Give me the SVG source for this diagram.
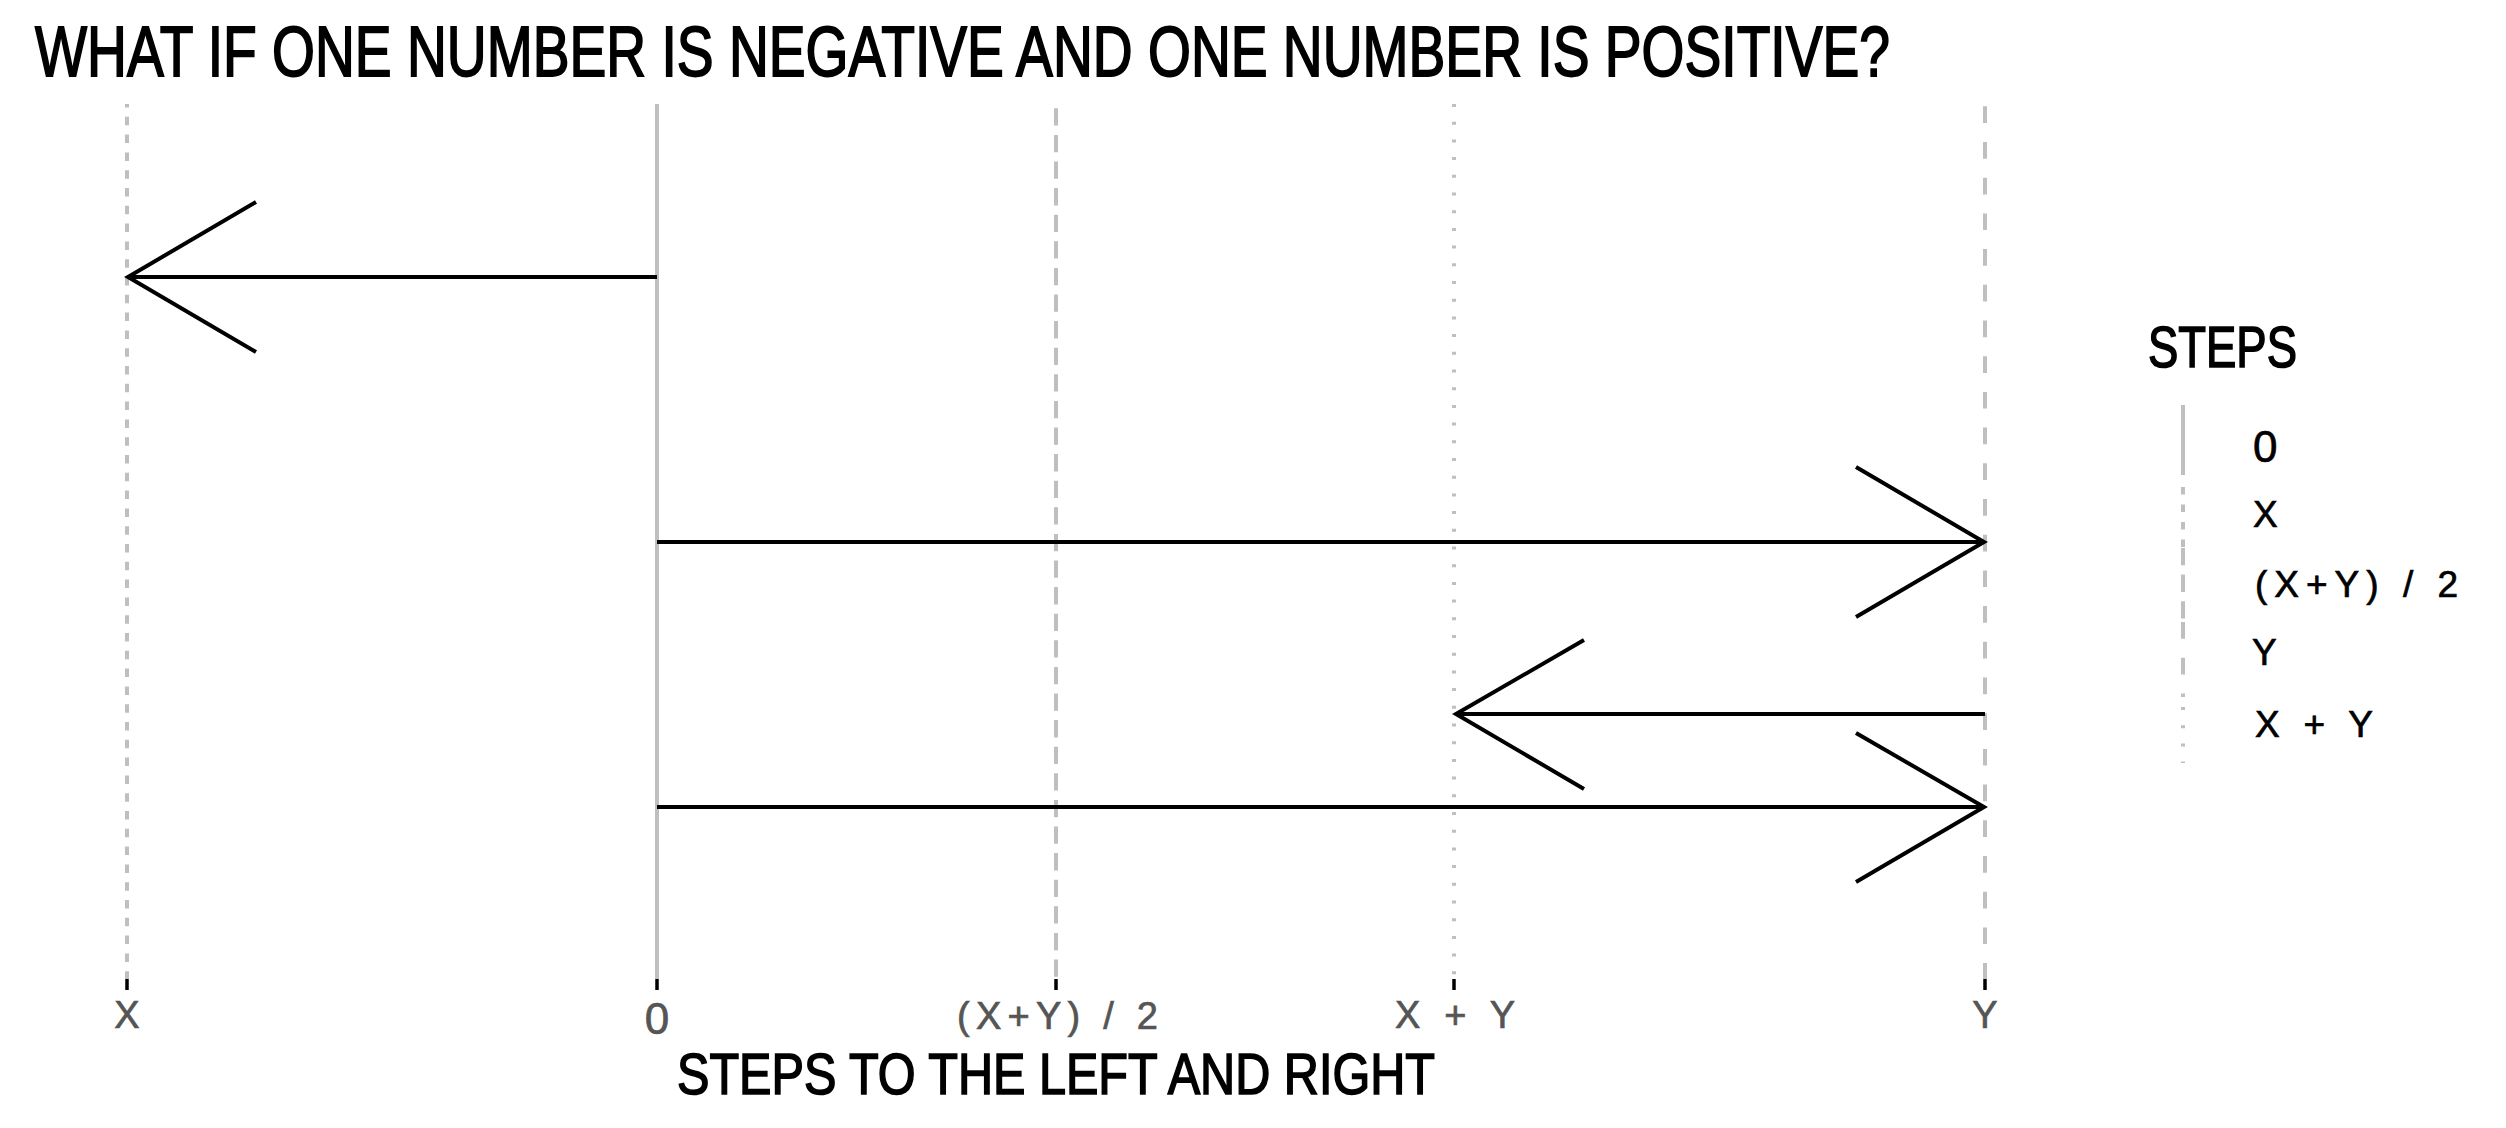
<svg xmlns="http://www.w3.org/2000/svg" width="2506" height="1128" viewBox="0 0 2506 1128">
<style>
.t{font-family:"Liberation Sans",Arial,sans-serif;}
.big{font-size:70px;fill:#000;stroke:#000;stroke-width:1.8;}
.lab{font-size:57px;fill:#000;stroke:#000;stroke-width:1.6;}
.tick{font-size:38px;fill:#555;stroke:#555;stroke-width:0.7;}
.leg{font-size:37px;fill:#000;stroke:#000;stroke-width:0.7;}
.zero{font-size:44px;}
.g{stroke:#bfbfbf;stroke-width:4;fill:none;}
.tk{stroke:#000;stroke-width:3.5;}
.ar{stroke:#000;stroke-width:4;fill:none;stroke-linejoin:miter;}
</style>
<rect width="2506" height="1128" fill="#fff"/>
<g id="title"><text class="t big" x="35" y="76" textLength="1855" lengthAdjust="spacingAndGlyphs">WHAT IF ONE NUMBER IS NEGATIVE AND ONE NUMBER IS POSITIVE?</text></g>
<g id="guides">
<line id="line-x" class="g" x1="127" y1="104" x2="127" y2="979" stroke-dasharray="8.5 9.3" stroke-dashoffset="5"/>
<line id="line-0" class="g" x1="657" y1="104" x2="657" y2="979"/>
<line id="line-half" class="g" x1="1056" y1="104" x2="1056" y2="979" stroke-dasharray="17.3 9.3" stroke-dashoffset="22.3"/>
<line id="line-xy" class="g" x1="1454" y1="104" x2="1454" y2="979" stroke-dasharray="3 14.7"/>
<line id="line-y" class="g" x1="1985" y1="104" x2="1985" y2="979" stroke-dasharray="16.7 19" stroke-dashoffset="33.4"/>
</g>
<g id="connectors">
<g id="arrow1"><line class="ar" x1="657" y1="277" x2="128" y2="277"/><polyline class="ar" points="256,202 128,277 256,352"/></g>
<g id="arrow2"><line class="ar" x1="657" y1="542" x2="1984" y2="542"/><polyline class="ar" points="1856,467 1984,542 1856,617"/></g>
<g id="arrow3"><line class="ar" x1="1985" y1="714" x2="1456" y2="714"/><polyline class="ar" points="1584,640 1456,714 1584,789"/></g>
<g id="arrow4"><line class="ar" x1="657" y1="807" x2="1984" y2="807"/><polyline class="ar" points="1856,733 1984,807 1856,882"/></g>
</g>
<g id="ticks">
<line class="tk" x1="127" y1="979" x2="127" y2="990"/>
<line class="tk" x1="657" y1="979" x2="657" y2="990"/>
<line class="tk" x1="1056" y1="979" x2="1056" y2="990"/>
<line class="tk" x1="1454" y1="979" x2="1454" y2="990"/>
<line class="tk" x1="1985" y1="979" x2="1985" y2="990"/>
<text class="t tick" x="127" y="1028" text-anchor="middle">X</text>
<text class="t tick zero" x="657" y="1034" text-anchor="middle">0</text>
<text class="t tick" x="957" y="1029" textLength="201" lengthAdjust="spacing">(X+Y) / 2</text>
<text class="t tick" x="1395" y="1028" textLength="120" lengthAdjust="spacing">X + Y</text>
<text class="t tick" x="1985" y="1028" text-anchor="middle">Y</text>
</g>
<g id="xlabel"><text class="t lab" x="677" y="1094" textLength="758" lengthAdjust="spacingAndGlyphs">STEPS TO THE LEFT AND RIGHT</text></g>
<g id="legend">
<text class="t lab" x="2148" y="367" textLength="149" lengthAdjust="spacingAndGlyphs">STEPS</text>
<line class="g" x1="2183" y1="405" x2="2183" y2="475"/>
<line class="g" x1="2183" y1="487" x2="2183" y2="547" stroke-dasharray="7.5 10"/>
<line class="g" x1="2183" y1="548" x2="2183" y2="620" stroke-dasharray="17.3 9.3"/>
<line class="g" x1="2183" y1="620" x2="2183" y2="697" stroke-dasharray="16.7 19" stroke-dashoffset="-2"/>
<line class="g" x1="2183" y1="707" x2="2183" y2="763" stroke-dasharray="3 15.2"/>
<text class="t leg zero" x="2253" y="462">0</text>
<text class="t leg" x="2253" y="527">X</text>
<text class="t leg" x="2255" y="597" textLength="203" lengthAdjust="spacing">(X+Y) / 2</text>
<text class="t leg" x="2252" y="665">Y</text>
<text class="t leg" x="2255" y="737" textLength="118" lengthAdjust="spacing">X + Y</text>
</g>
</svg>
